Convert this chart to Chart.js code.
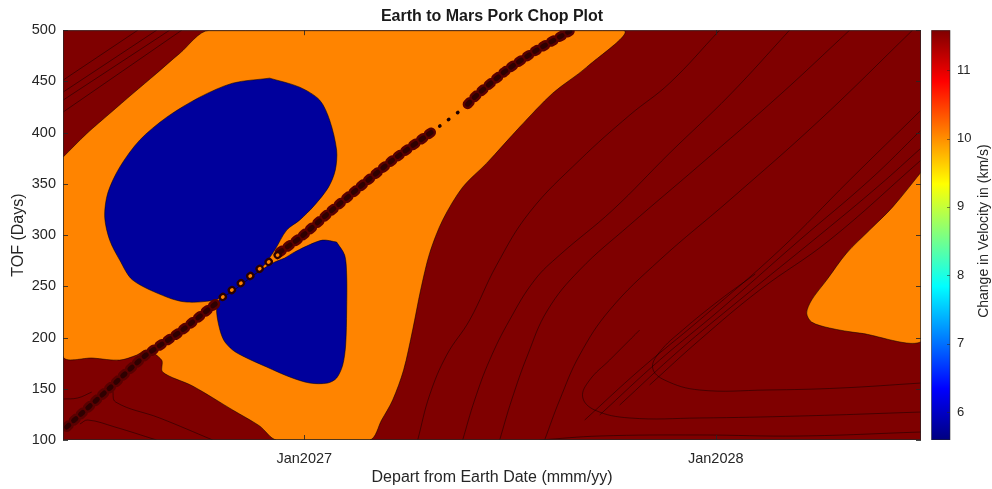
<!DOCTYPE html>
<html>
<head>
<meta charset="utf-8">
<title>Earth to Mars Pork Chop Plot</title>
<script src="https://cdn.jsdelivr.net/npm/chart.js@4.4.1/dist/chart.umd.min.js"></script>
<style>
  html, body { margin: 0; padding: 0; background: #fff; }
</style>
</head>
<body>
<canvas id="porkChop" width="992" height="489"></canvas>
<script>
// departure day counted from 1 Jan 2027, time of flight in days
const xTickDays = [0, 365];
const xTickLabels = ['Jan2027', 'Jan2028'];
const tofTicks = [100, 150, 200, 250, 300, 350, 400, 450, 500];
const dvTicks = [6, 7, 8, 9, 10, 11];

// filled contour regions [day, tof]
const orangeBand = [
  [-214, 376], [-193, 399], [-172.5, 418.7], [-152, 438.2], [-131, 457.8], [-110.5, 477.3], [-84, 500],
  [282.4, 500], [250.4, 463.9], [220.3, 438.5], [191, 405.4], [161.8, 370.2], [140.5, 346.8],
  [122.7, 314.6], [111.2, 282.4], [103.2, 246.3], [96.1, 207.3], [88.1, 168.3], [78.4, 139],
  [68.6, 119.5], [58, 100], [-24.5, 100], [-39.6, 113.7], [-63.5, 129.3], [-99, 152.7],
  [-125.6, 166.3], [-126.5, 178], [-139.8, 187.8], [-148.6, 182.9], [-163.7, 178], [-187.6, 180], [-214, 182]
];
const orangeCorner = [
  [550, 365.4], [521.8, 327.3], [501.4, 304.9], [481, 282.4], [463.3, 256.1], [450, 236.6],
  [445.6, 223.9], [450, 215.1], [465.9, 209.3], [492.5, 204.4], [550, 199.5]
];
const blueUpper = [
  [-30.7, 453.2], [-4.1, 444.4], [13.7, 431.7], [22.5, 412.2], [28.7, 382.9], [27.5, 363.4],
  [21.5, 346.8], [9, 329], [-4.1, 314.6], [-15.6, 304.9], [-26.2, 285.4], [-37.8, 267.8],
  [-52.9, 254.1], [-66.2, 243.4], [-79.5, 236.6], [-104.3, 234.6], [-122, 239.5], [-152.2, 256.1],
  [-163.7, 275.6], [-172.6, 295.1], [-177, 317.6], [-174.3, 341], [-163.7, 366.3], [-146, 392.7],
  [-122, 415.1], [-92.8, 434.6], [-63.5, 448.3]
];
const blueLower = [
  [28.7, 293.2], [35.8, 280.5], [37.6, 261], [37.6, 226.8], [36.7, 192.7], [34.1, 173.2],
  [28.7, 160.5], [20.8, 155.6], [4.8, 155.6], [-12.9, 161.5], [-33.3, 171.2], [-52.9, 181],
  [-63.5, 187.8], [-71.5, 197.6], [-75.9, 212.2], [-77.7, 228.8], [-73.2, 240.5], [-57.3, 252.2],
  [-39.6, 264.9], [-26.2, 273.7], [-17.4, 277.6], [-10.3, 282.4], [2.1, 289.3], [16.3, 295.1]
];

// singular ridge of the Lambert solutions
const ridgeA = [[-210.7, 112.7], [-172.6, 150.7], [-141.5, 182], [-110.5, 205.4], [-76.8, 234.6]];
const ridgeB = [[-72.4, 239.5], [-23.6, 280.5]];
const ridgeC = [[-21.8, 283.4], [-4.1, 297.1], [22.5, 322.4], [49.1, 346.8], [78.4, 373.2], [116.5, 403.4]];
const ridgeD = [[120.1, 406.3], [137.8, 421]];
const ridgeE = [[144.9, 427.8], [152.9, 436.6], [179.5, 461], [206.1, 480.5], [235.4, 499]];

// contour lines inside the high delta-v region
const contourLines = [
  [[-214, 451.2], [-147.7, 500]],
  [[-214, 439.5], [-130.9, 500]],
  [[-214, 431.7], [-119.4, 500]],
  [[-214, 420], [-108.7, 500]],
  [[-214, 140], [-201, 141], [-188.5, 146.8]],
  [[-199, 115.6], [-192, 119.5], [-168, 112.7], [-131, 100]],
  [[-170, 148.8], [-167.2, 137], [-128.3, 121.5], [-81.2, 100]],
  [[100.6, 100], [111.2, 143.9], [126.3, 182.9], [146.7, 217.1], [170.6, 270.7], [199.9, 322.4], [244.2, 373.2], [288.6, 417.1], [324, 448.3], [368.4, 500]],
  [[140.5, 100], [151.1, 139], [164.4, 178], [182.1, 217.1], [204.3, 256.1], [226.5, 280.5], [273.5, 324.4], [324, 380], [377.2, 436.6], [430.4, 500]],
  [[173.3, 100], [183.9, 139], [198.1, 182.9], [215.8, 226.8], [244.2, 265.9], [288.6, 309.8], [350.6, 368.3], [421.6, 436.6], [483.7, 500]],
  [[213.2, 100], [226.5, 139], [244.2, 182.9], [270.8, 226.8], [315.2, 275.6], [377.2, 334.1], [457.1, 412.2], [539.5, 500]],
  [[248.7, 119.5], [297.4, 168.3], [350.6, 217.1], [421.6, 285.4], [483.7, 353.7], [547, 421.9]],
  [[262, 124.4], [315.2, 178], [368.4, 226.8], [439.3, 295.1], [501.4, 353.7], [547, 402.4]],
  [[279.7, 134.1], [332.9, 187.8], [386.1, 236.6], [457.1, 300], [510.3, 348.8], [547, 384.9]],
  [[306.3, 153.7], [350.6, 197.6], [403.8, 246.3], [465.9, 295.1], [547, 373.2]],
  [[547, 155.6], [474.8, 150.7], [410.1, 148.8], [350.6, 148.8], [319.6, 158.5], [309, 170.2], [315.2, 185.9], [335.6, 207.3], [368.4, 236.6], [400, 262]],
  [[547, 127.3], [439.3, 123.4], [350.6, 121.5], [288.6, 121.5], [257.5, 129.3], [246.9, 142], [253.1, 158.5], [270.8, 178], [297.4, 207.3]],
  [[547, 107.8], [439.3, 103.9], [350.6, 104.9], [262, 103.9], [208.8, 100]]
];

const FONT = "'Liberation Sans', Arial, Helvetica, sans-serif";
const TEXT = '#262626';
const DARK_RED = '#7f0000';
const ORANGE = '#ff8400';
const BLUE = '#00009c';
const EDGE = 'rgba(0,0,0,0.65)';

const toPoints = arr => arr.map(([x, y]) => ({ x, y }));

function region(arr, color, order) {
  return {
    data: toPoints(arr.concat([arr[0]])),
    backgroundColor: color,
    borderColor: EDGE,
    borderWidth: 0.8,
    fill: 'shape',
    tension: 0.3,
    pointRadius: 0,
    order
  };
}

function contour(arr) {
  return {
    data: toPoints(arr),
    borderColor: 'rgba(10,0,0,0.6)',
    borderWidth: 0.8,
    fill: false,
    tension: 0.4,
    pointRadius: 0,
    order: 50
  };
}

function beads(arr, width, dash, color, order) {
  return {
    data: toPoints(arr),
    borderColor: color,
    borderWidth: width,
    borderDash: dash,
    borderCapStyle: 'round',
    fill: false,
    tension: 0.2,
    pointRadius: 0,
    order
  };
}

const DENSE = [3, 6.5];

const datasets = [
  ...contourLines.map(contour),
  region(orangeBand, ORANGE, 40),
  region(orangeCorner, ORANGE, 40),
  region(blueUpper, BLUE, 30),
  region(blueLower, BLUE, 30),
  beads(ridgeA, 10, DENSE, '#5a0000', 12),
  beads(ridgeA, 5, DENSE, '#2e0000', 11),
  beads(ridgeB, 8, [0.5, 11], '#2a0000', 12),
  beads(ridgeB, 3.5, [0.5, 11], ORANGE, 11),
  beads(ridgeC, 10, DENSE, '#5a0000', 12),
  beads(ridgeC, 5, DENSE, '#2e0000', 11),
  beads(ridgeD, 3.5, [0.5, 10.5], '#200000', 11),
  beads(ridgeE, 10, DENSE, '#5a0000', 12),
  beads(ridgeE, 5, DENSE, '#2e0000', 11)
];

// jet colour map stops
const JET = [[0, '#000080'], [0.125, '#0000ff'], [0.375, '#00ffff'], [0.625, '#ffff00'], [0.875, '#ff0000'], [1, '#800000']];

const plotFrame = {
  id: 'plotFrame',
  beforeDatasetsDraw(chart) {
    const { ctx, chartArea: a } = chart;
    ctx.save();
    ctx.fillStyle = DARK_RED;
    ctx.fillRect(a.left, a.top, a.width, a.height);
    ctx.restore();
  },
  afterDatasetsDraw(chart) {
    const { ctx, chartArea: a, scales } = chart;
    ctx.save();
    ctx.strokeStyle = 'rgba(38,38,38,0.85)';
    ctx.lineWidth = 1;
    ctx.beginPath();
    scales.y.ticks.forEach(t => {
      const y = Math.round(scales.y.getPixelForValue(t.value)) + 0.5;
      ctx.moveTo(a.left, y); ctx.lineTo(a.left + 5, y);
      ctx.moveTo(a.right, y); ctx.lineTo(a.right - 5, y);
    });
    scales.x.ticks.forEach(t => {
      const x = Math.round(scales.x.getPixelForValue(t.value)) + 0.5;
      ctx.moveTo(x, a.bottom); ctx.lineTo(x, a.bottom - 5);
      ctx.moveTo(x, a.top); ctx.lineTo(x, a.top + 5);
    });
    ctx.stroke();
    ctx.strokeStyle = 'rgba(38,38,38,0.7)';
    ctx.strokeRect(a.left + 0.5, a.top + 0.5, a.width - 1, a.height - 1);
    ctx.restore();
  },
  afterDraw(chart) {
    const { ctx, chartArea: a } = chart;
    const cb = chart.scales.cb;
    const x0 = a.right + 10.5;
    const w = 18.5;
    ctx.save();
    const grad = ctx.createLinearGradient(0, cb.bottom, 0, cb.top);
    JET.forEach(([f, c]) => grad.addColorStop(f, c));
    ctx.fillStyle = grad;
    ctx.fillRect(x0, cb.top, w, cb.bottom - cb.top);
    ctx.strokeStyle = 'rgba(38,38,38,0.55)';
    ctx.lineWidth = 1;
    ctx.strokeRect(x0, cb.top + 0.5, w, cb.bottom - cb.top - 1);
    ctx.beginPath();
    cb.ticks.forEach(t => {
      const y = Math.round(cb.getPixelForValue(t.value)) + 0.5;
      ctx.moveTo(x0 + w, y); ctx.lineTo(x0 + w - 3, y);
    });
    ctx.stroke();
    ctx.fillStyle = TEXT;
    ctx.font = '14px ' + FONT;
    ctx.textAlign = 'center';
    ctx.textBaseline = 'middle';
    ctx.translate(984, (cb.top + cb.bottom) / 2 - 4);
    ctx.rotate(-Math.PI / 2);
    ctx.fillText('Change in Velocity in (km/s)', 0, 0);
    ctx.restore();
  }
};

// fixed axis boxes, no extra room for overhanging tick labels
function fixBox(size) {
  return s => {
    if (s.isHorizontal()) s.height = size; else s.width = size;
    s.paddingTop = 0; s.paddingBottom = 0; s.paddingLeft = 0; s.paddingRight = 0;
  };
}

new Chart(document.getElementById('porkChop'), {
  type: 'line',
  data: { datasets },
  plugins: [plotFrame],
  options: {
    responsive: false,
    animation: false,
    events: [],
    layout: { padding: 0 },
    plugins: {
      legend: { display: false },
      tooltip: { enabled: false },
      title: {
        display: true,
        text: 'Earth to Mars Pork Chop Plot',
        fullSize: false,
        color: '#1a1a1a',
        font: { family: FONT, size: 16, weight: 'bold', lineHeight: 1.2 },
        padding: { top: 7, bottom: 4 }
      }
    },
    scales: {
      x: {
        type: 'linear',
        min: -214,
        max: 547,
        grid: { display: false, drawTicks: false },
        border: { display: false },
        afterBuildTicks: s => { s.ticks = xTickDays.map(v => ({ value: v })); },
        afterFit: fixBox(49),
        ticks: {
          padding: 10,
          maxRotation: 0,
          color: TEXT,
          font: { family: FONT, size: 14.5 },
          callback: (v, i) => xTickLabels[i]
        },
        title: {
          display: true,
          text: 'Depart from Earth Date (mmm/yy)',
          color: TEXT,
          font: { family: FONT, size: 16 },
          padding: { top: 0, bottom: 1.4 }
        }
      },
      y: {
        type: 'linear',
        min: 100,
        max: 500,
        grid: { display: false, drawTicks: false },
        border: { display: false },
        afterBuildTicks: s => { s.ticks = tofTicks.map(v => ({ value: v })); },
        afterFit: fixBox(63),
        ticks: { padding: 7, color: TEXT, font: { family: FONT, size: 14.5 } },
        title: {
          display: true,
          text: 'TOF (Days)',
          color: TEXT,
          font: { family: FONT, size: 16 },
          padding: { top: 8.7, bottom: 0 }
        }
      },
      cb: {
        type: 'linear',
        axis: 'y',
        position: 'right',
        min: 5.59,
        max: 11.585,
        grid: { display: false, drawTicks: false },
        border: { display: false },
        afterBuildTicks: s => { s.ticks = dvTicks.map(v => ({ value: v })); },
        afterFit: fixBox(71),
        ticks: { padding: 36, color: TEXT, font: { family: FONT, size: 13 } }
      }
    }
  }
});
</script>
</body>
</html>
